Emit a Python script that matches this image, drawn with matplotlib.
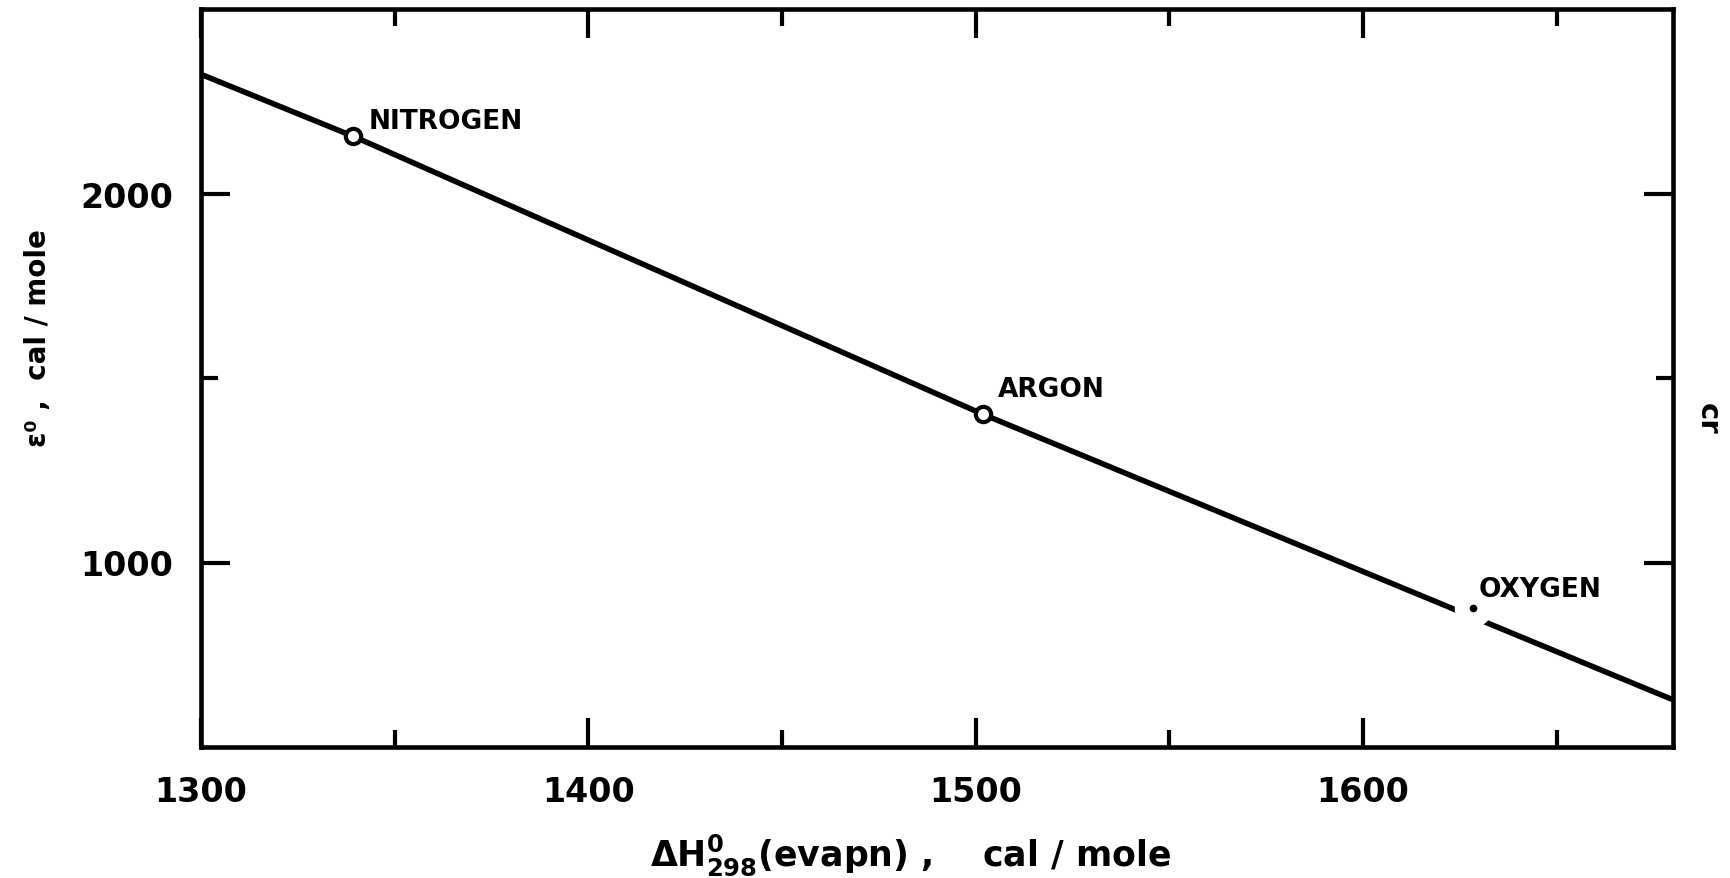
import matplotlib
matplotlib.use("Agg")
import matplotlib.pyplot as plt
from matplotlib.ticker import FixedLocator

plt.rcParams["font.family"] = ["DejaVu Sans"]
plt.rcParams["font.weight"] = "bold"
plt.rcParams["mathtext.fontset"] = "dejavusans"
plt.rcParams["mathtext.default"] = "bf"

# Heat of evaporation vs. potential parameter
line_x = [1300, 1339.3, 1501.8, 1680]
line_y = [2323, 2155, 1402, 628]

gases = ["NITROGEN", "ARGON"]
gas_x = [1339.3, 1501.8]
gas_y = [2155, 1402]

oxygen_name = "OXYGEN"
oxygen_x = 1628.4
oxygen_y = 876

x_major = [1300, 1400, 1500, 1600]
x_minor = [1350, 1450, 1550, 1650]
y_major = [1000, 2000]
y_minor = [1500]

fig = plt.figure(figsize=(17.30, 8.79), dpi=100)
ax = fig.add_axes([201 / 1730, 1 - 748 / 879, (1673 - 201) / 1730, (748 - 10) / 879])

ax.plot(line_x, line_y, color="black", lw=4.0, solid_capstyle="butt", zorder=2)
# break in the curve around the oxygen point
ax.plot([oxygen_x], [oxygen_y], marker="o", ms=26, mfc="white", mec="white",
        ls="none", zorder=3)
ax.plot([oxygen_x], [oxygen_y], marker="o", ms=4.5, color="black", ls="none", zorder=4)

ax.plot(gas_x, gas_y, ls="none", marker="o", ms=11, mfc="white", mec="black",
        mew=3.0, zorder=4)

offsets = [(11, 11), (11, 18)]
for name, x, y, off in zip(gases, gas_x, gas_y, offsets):
    ax.annotate(name, (x, y), xytext=off, textcoords="offset points",
                ha="left", va="center", fontsize=19, fontweight="bold")
ax.annotate(oxygen_name, (oxygen_x, oxygen_y), xytext=(4, 14),
            textcoords="offset points", ha="left", va="center",
            fontsize=19, fontweight="bold")

ax.set_xlim(1300, 1680)
ax.set_ylim(500, 2500)

ax.xaxis.set_major_locator(FixedLocator(x_major))
ax.xaxis.set_minor_locator(FixedLocator(x_minor))
ax.yaxis.set_major_locator(FixedLocator(y_major))
ax.yaxis.set_minor_locator(FixedLocator(y_minor))
ax.set_xticklabels([str(v) for v in x_major])
ax.set_yticklabels([str(v) for v in y_major])

ax.tick_params(which="both", direction="in", top=True, right=True,
               width=3, color="black")
ax.tick_params(which="major", length=21, labelsize=24, pad=20)
ax.tick_params(which="minor", length=12)
for lab in ax.get_xticklabels() + ax.get_yticklabels():
    lab.set_fontweight("bold")

for sp in ax.spines.values():
    sp.set_linewidth(3.3)

ax.set_xlabel(r"$\Delta H^{0}_{298}$(evapn) ,    cal / mole", fontsize=25,
              fontweight="bold")
ax.xaxis.set_label_coords(0.482, -0.115)
ax.set_ylabel("ε⁰ ,  cal / mole", fontsize=20, fontweight="bold")
ax.yaxis.set_label_coords(-0.101, 0.555)

fig.text(1708 / 1730, 1 - 419 / 879, "cr", rotation=270, ha="center",
         va="center", fontsize=21)

fig.savefig("out.png", dpi=100)
